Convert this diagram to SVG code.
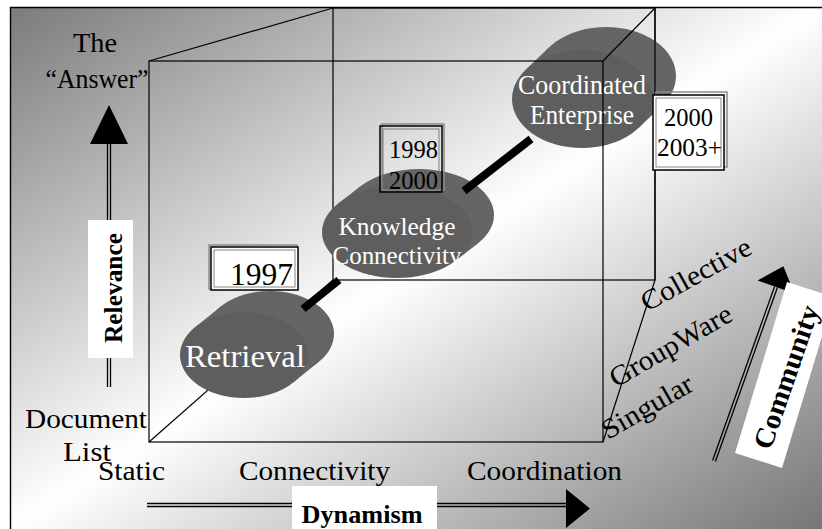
<svg xmlns="http://www.w3.org/2000/svg" width="822" height="529" viewBox="0 0 822 529">
<defs>
<linearGradient id="bg" x1="0" y1="0" x2="1" y2="1">
<stop offset="0" stop-color="#7b7b7b"/>
<stop offset="0.5" stop-color="#ffffff"/>
<stop offset="1" stop-color="#767676"/>
</linearGradient>
<pattern id="hatch" patternUnits="userSpaceOnUse" width="3" height="3" patternTransform="rotate(-40)">
<rect width="3" height="3" fill="#636363"/>
<line x1="0" y1="0" x2="0" y2="3" stroke="#737373" stroke-width="0.7"/>
</pattern>
<style>
.edge{fill:none;stroke:#000;stroke-width:1.2}
.side{fill:url(#hatch)}
.face{fill:#5e5e5e}
.wt{font-family:"Liberation Serif","Times New Roman",serif;fill:#fff}
.bt{font-family:"Liberation Serif","Times New Roman",serif;fill:#000}
.bold{font-family:"Liberation Serif","Times New Roman",serif;font-weight:bold;fill:#000}
.conn{stroke:#000;stroke-width:8;fill:none}
.dbl{stroke:#000;stroke-width:1.3;fill:none}
.sh{fill:none;stroke:#8a8a8a;stroke-width:1.5}
.bx{stroke:#000;stroke-width:1.5}
.in{fill:none;stroke:#666;stroke-width:0.8}
</style>
</defs>

<g id="background">
<rect x="10" y="7" width="812" height="522" fill="url(#bg)"/>
<path d="M10.5 529 V7.5 H822" fill="none" stroke="#000" stroke-width="1.4"/>
</g>

<g id="cube-back">
<rect class="edge" x="333" y="8" width="322" height="272"/>
<line class="edge" x1="149" y1="442" x2="333" y2="280"/>
</g>

<g id="node-retrieval">
<ellipse class="side" cx="270" cy="334" rx="64" ry="43"/>
<polygon class="side" points="293.2,382.5 319.2,361.5 220.8,306.5 194.8,327.5"/>
<ellipse class="face" cx="244" cy="355" rx="64" ry="43"/>
<text class="wt" x="245" y="367" font-size="32" text-anchor="middle" textLength="120" lengthAdjust="spacingAndGlyphs">Retrieval</text>
</g>

<g id="node-knowledge">
<ellipse class="side" cx="419" cy="215" rx="75" ry="46"/>
<polygon class="side" points="455.8,260.6 477.8,243.6 360.2,186.4 338.2,203.4"/>
<ellipse class="face" cx="397" cy="232" rx="75" ry="46"/>
<text class="wt" x="397" y="235" font-size="25" text-anchor="middle" textLength="117" lengthAdjust="spacingAndGlyphs">Knowledge</text>
<text class="wt" x="397" y="264" font-size="25" text-anchor="middle" textLength="129" lengthAdjust="spacingAndGlyphs">Connectivity</text>
</g>

<g id="node-coordinated">
<ellipse class="side" cx="606" cy="76" rx="70" ry="49"/>
<polygon class="side" points="638.6,127.9 662.6,104.9 549.4,47.1 525.4,70.1"/>
<ellipse class="face" cx="582" cy="99" rx="70" ry="49"/>
<text class="wt" x="582" y="94" font-size="27" text-anchor="middle" textLength="128" lengthAdjust="spacingAndGlyphs">Coordinated</text>
<text class="wt" x="582" y="124" font-size="27" text-anchor="middle" textLength="104" lengthAdjust="spacingAndGlyphs">Enterprise</text>
</g>

<g id="connectors">
<line class="conn" x1="303" y1="309" x2="339" y2="280"/>
<line class="conn" x1="464" y1="191" x2="531" y2="139"/>
</g>

<g id="label-1998">
<rect class="sh" x="382" y="124" width="62" height="66"/>
<rect class="bx" x="380" y="126" width="62" height="66" fill="none"/>
<rect class="in" x="383" y="129" width="56" height="60"/>
<text class="bt" x="389" y="158" font-size="25" textLength="49" lengthAdjust="spacingAndGlyphs">1998</text>
<text class="bt" x="389" y="189" font-size="25" textLength="49" lengthAdjust="spacingAndGlyphs">2000</text>
</g>

<g id="label-1997">
<rect class="sh" x="209" y="245" width="88" height="44"/>
<rect class="bx" x="211" y="247" width="87" height="43" fill="#fff"/>
<rect class="in" x="214" y="250" width="81" height="37"/>
<text class="bt" x="230" y="285" font-size="31" textLength="63" lengthAdjust="spacingAndGlyphs">1997</text>
</g>

<g id="cube-front">
<rect class="edge" x="149" y="61" width="454" height="381"/>
<line class="edge" x1="149" y1="61" x2="333" y2="8"/>
<line class="edge" x1="603" y1="61" x2="655" y2="8"/>
<line class="edge" x1="603" y1="442" x2="655" y2="280"/>
<line class="edge" x1="655" y1="8" x2="655" y2="280"/>
</g>

<g id="label-2000">
<rect class="sh" x="656" y="92" width="71" height="75"/>
<rect class="bx" x="653" y="95" width="71" height="75" fill="#fff" stroke-width="2"/>
<rect class="in" x="656" y="98" width="65" height="69"/>
<text class="bt" x="664" y="126" font-size="25" textLength="49" lengthAdjust="spacingAndGlyphs">2000</text>
<text class="bt" x="657" y="156" font-size="25" textLength="65" lengthAdjust="spacingAndGlyphs">2003+</text>
</g>

<g id="axis-relevance">
<text class="bt" x="95" y="52" font-size="28" text-anchor="middle" textLength="44" lengthAdjust="spacingAndGlyphs">The</text>
<text class="bt" x="97" y="88" font-size="28" text-anchor="middle" textLength="103" lengthAdjust="spacingAndGlyphs">“Answer”</text>
<line class="dbl" x1="107.5" y1="142" x2="107.5" y2="387"/>
<line class="dbl" x1="110.5" y1="142" x2="110.5" y2="387"/>
<polygon points="109,105 90,144 128,144" fill="#000"/>
<rect x="88" y="220" width="45" height="138" fill="#fff"/>
<text class="bold" transform="translate(122,288) rotate(-90)" font-size="25" text-anchor="middle" textLength="110" lengthAdjust="spacingAndGlyphs">Relevance</text>
<text class="bt" x="25" y="428" font-size="28" textLength="122" lengthAdjust="spacingAndGlyphs">Document</text>
<text class="bt" x="63" y="461" font-size="28" textLength="48" lengthAdjust="spacingAndGlyphs">List</text>
</g>

<g id="axis-dynamism">
<text class="bt" x="98" y="480" font-size="28" textLength="67" lengthAdjust="spacingAndGlyphs">Static</text>
<text class="bt" x="239" y="480" font-size="28" textLength="151" lengthAdjust="spacingAndGlyphs">Connectivity</text>
<text class="bt" x="467" y="480" font-size="28" textLength="155" lengthAdjust="spacingAndGlyphs">Coordination</text>
<line class="dbl" x1="147" y1="503.5" x2="567" y2="503.5"/>
<line class="dbl" x1="147" y1="506.5" x2="567" y2="506.5"/>
<polygon points="566,489 566,528 590,508.5" fill="#000"/>
<rect x="292" y="486" width="145" height="50" fill="#fff"/>
<text class="bold" x="362" y="523" font-size="26" text-anchor="middle" textLength="121" lengthAdjust="spacingAndGlyphs">Dynamism</text>
</g>

<g id="axis-community">
<text class="bt" transform="translate(608,440) rotate(-30)" font-size="28" textLength="101" lengthAdjust="spacingAndGlyphs">Singular</text>
<text class="bt" transform="translate(616,388) rotate(-30)" font-size="28" textLength="137" lengthAdjust="spacingAndGlyphs">GroupWare</text>
<text class="bt" transform="translate(647,312) rotate(-29)" font-size="28" textLength="122" lengthAdjust="spacingAndGlyphs">Collective</text>
<line class="dbl" x1="712.6" y1="460.5" x2="774.6" y2="286.5"/>
<line class="dbl" x1="715.4" y1="461.5" x2="777.4" y2="287.5"/>
<polygon points="757.6,280.4 794.4,293.6 783.4,266.3" fill="#000"/>
<polygon points="735,453 782,468 834,297 787,282" fill="#fff"/>
<text class="bold" transform="translate(795,380) rotate(-71)" font-size="28" text-anchor="middle" textLength="150" lengthAdjust="spacingAndGlyphs">Community</text>
</g>
</svg>
